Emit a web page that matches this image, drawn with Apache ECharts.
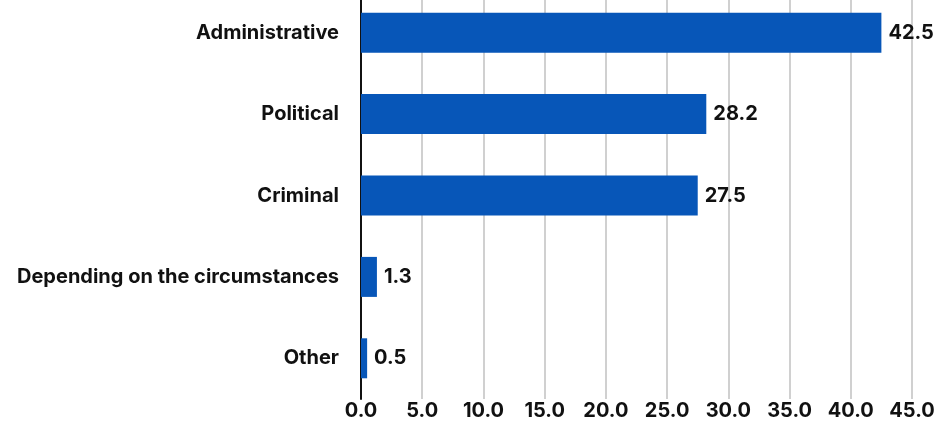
<!DOCTYPE html>
<html><head><meta charset="utf-8">
<script src="https://cdn.jsdelivr.net/npm/echarts@6/dist/echarts.min.js"></script>
<style>html,body{margin:0;padding:0;background:#fff;overflow:hidden}#c{width:942px;height:429px;margin-top:-8px}</style>
</head><body><div id="c"></div>
<script>
const categories = ["Administrative", "Political", "Criminal", "Depending on the circumstances", "Other"];
const values = [42.5, 28.2, 27.5, 1.3, 0.5];
const xTicks = [0, 5, 10, 15, 20, 25, 30, 35, 40, 45];

const font = "Inter, sans-serif";
const chart = echarts.init(document.getElementById('c'), null, {renderer: 'canvas'});
chart.setOption({
  animation: false,
  grid: {left: 361, right: 30, top: 0, height: 408, containLabel: false},
  xAxis: {
    type: 'value', min: xTicks[0], max: xTicks[xTicks.length - 1], interval: 5,
    axisLine: {show: false}, axisTick: {show: false},
    splitLine: {show: true, lineStyle: {color: '#d0d0d0', width: 2}},
    axisLabel: {formatter: v => v.toFixed(1), color: '#111', fontFamily: font, fontWeight: 'bold', fontSize: 20, margin: 2}
  },
  yAxis: {
    type: 'category', data: categories, inverse: true,
    axisLine: {show: true, lineStyle: {color: '#111', width: 2}},
    axisTick: {show: false},
    axisLabel: {color: '#111', fontFamily: font, fontWeight: 'bold', fontSize: 20, margin: 22}
  },
  series: [{
    type: 'bar', data: values, barWidth: 40,
    itemStyle: {color: '#0756b8'},
    label: {show: true, position: 'right', distance: 7, formatter: p => p.value.toFixed(1),
      color: '#111', fontFamily: font, fontWeight: 'bold', fontSize: 20}
  }]
});
</script></body></html>
